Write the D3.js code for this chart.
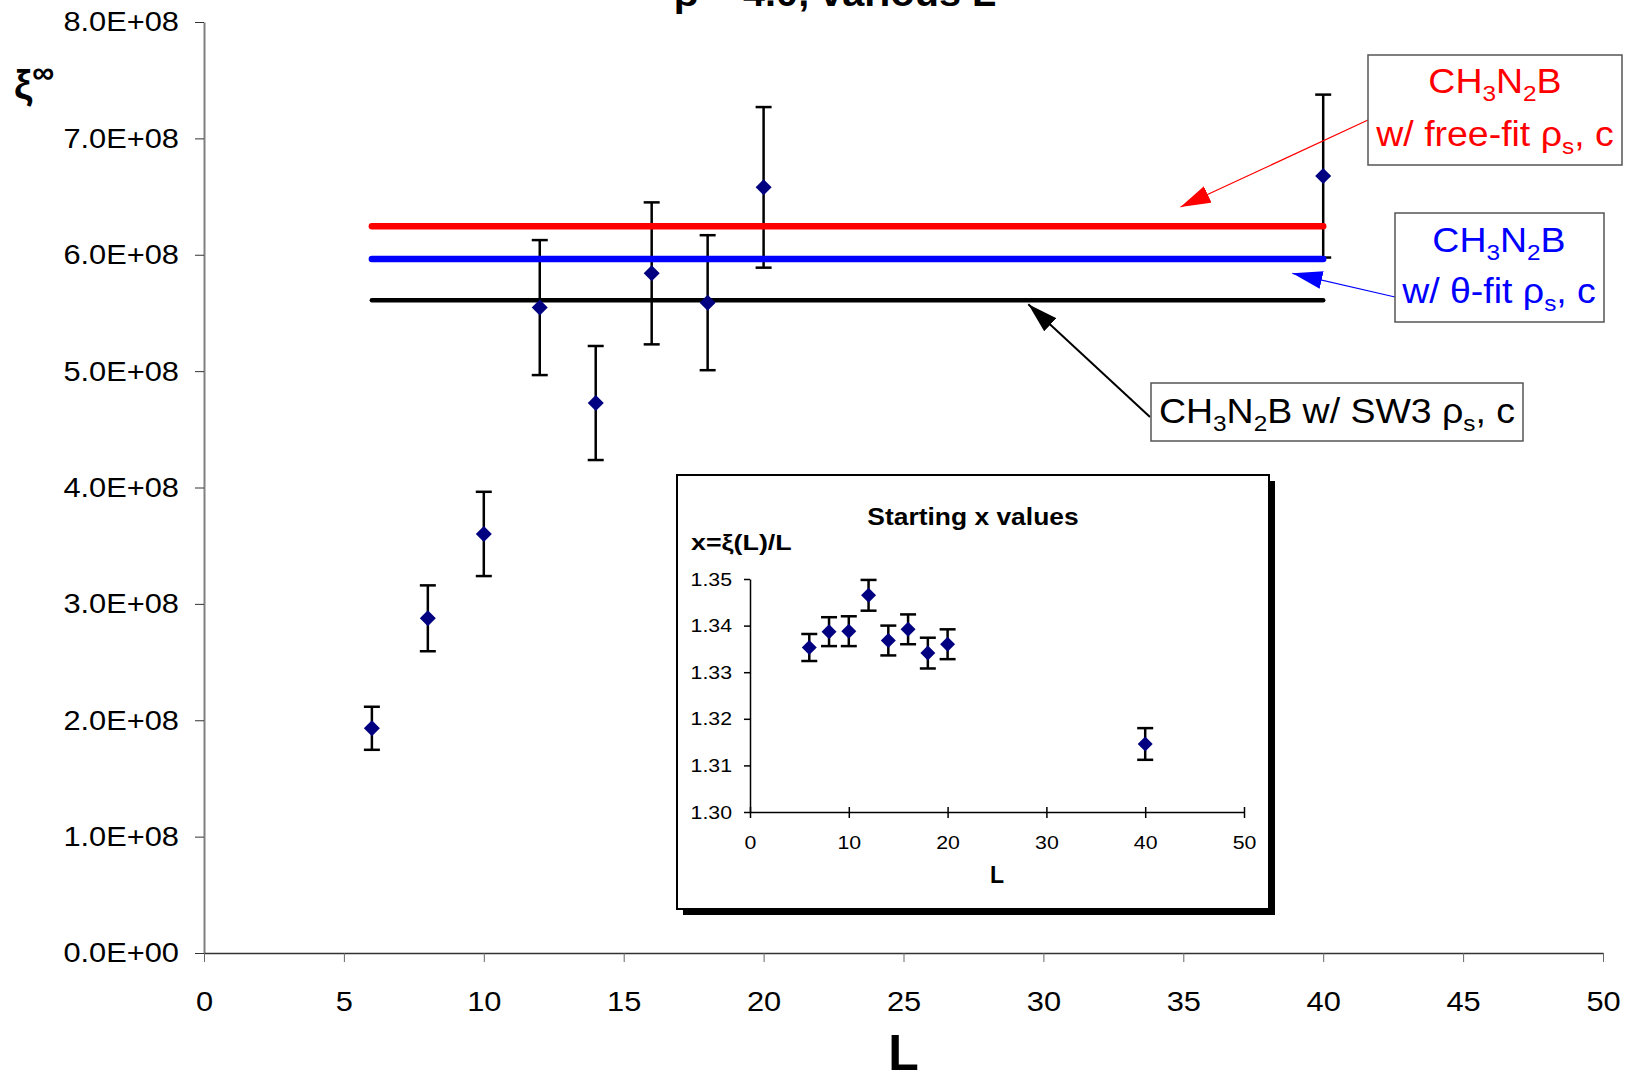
<!DOCTYPE html>
<html>
<head>
<meta charset="utf-8">
<script src="https://cdn.jsdelivr.net/npm/d3@7"></script>
<style>
  body { margin: 0; background: #fff; }
  svg { display: block; font-family: "Liberation Sans", Arial, sans-serif; }
</style>
</head>
<body>
<script>
'use strict';

// main chart data: xi_infinity vs L
const sizes = [6, 8, 10, 12, 14, 16, 18, 20, 40];
const xi_inf = [1.931e8, 2.876e8, 3.601e8, 5.546e8, 4.726e8, 5.840e8, 5.588e8, 6.579e8, 6.676e8];
const xi_err = [0.185e8, 0.283e8, 0.362e8, 0.58e8, 0.49e8, 0.61e8, 0.58e8, 0.69e8, 0.70e8];

// horizontal predictions, drawn from L=6 to L=40
const fit_range = [6, 40];
const fit_free = 6.244e8;   // red
const fit_theta = 5.963e8;  // blue
const fit_sw3 = 5.608e8;    // black

// inset: starting x = xi(L)/L
const x_start = [1.3353, 1.3387, 1.3388, 1.3465, 1.3368, 1.3392, 1.3341, 1.3360, 1.3146];
const x_start_err = [0.0029, 0.0031, 0.0032, 0.0033, 0.0032, 0.0032, 0.0033, 0.0032, 0.0034];

const x_ticks = [0, 5, 10, 15, 20, 25, 30, 35, 40, 45, 50];
const y_ticks = [0, 1e8, 2e8, 3e8, 4e8, 5e8, 6e8, 7e8, 8e8];
const inset_x_ticks = [0, 10, 20, 30, 40, 50];
const inset_y_ticks = [1.30, 1.31, 1.32, 1.33, 1.34, 1.35];

const W = 1631, H = 1070;
const MARK = "#000080";

const svg = d3.select("body").append("svg")
  .attr("width", W)
  .attr("height", H);

const x = d3.scaleLinear().domain([0, 50]).range([204, 1603]);
const y = d3.scaleLinear().domain([0, 8e8]).range([953, 22]);

// the original was rendered a bit wide, so stretch text horizontally
function stretch(sel, k)
{
  sel.each(function() {
    var w = this.getComputedTextLength();
    d3.select(this).attr("textLength", w * k).attr("lengthAdjust", "spacingAndGlyphs");
  });
}

// text with sub/superscripts: parts = [[string, "n"|"sub"|"sup"], ...]
function rich(sel, px, py, parts, fs, colour, anchor)
{
  var t = sel.append("text")
    .attr("x", px).attr("y", py)
    .attr("font-size", fs)
    .attr("fill", colour)
    .attr("text-anchor", anchor || "middle");
  var shift = 0;
  parts.forEach(function(p) {
    var want = p[1] === "sub" ? fs * 0.22 : p[1] === "sup" ? -fs * 0.4 : 0;
    t.append("tspan")
      .attr("dy", want - shift)
      .attr("font-size", p[1] === "n" ? fs : p[1] === "sup" ? fs * 0.75 : fs * 0.65)
      .text(p[0]);
    shift = want;
  });
  return t;
}

/* Title (mostly above the page edge) */
svg.append("text")
  .attr("x", 835).attr("y", 6)
  .attr("text-anchor", "middle")
  .attr("font-size", 36)
  .attr("font-weight", "bold")
  .text("β = 4.0, various L")
  .call(stretch, 1.1);

/* Axes */
const gy = svg.append("g")
  .attr("transform", `translate(${x(0)},0)`)
  .call(d3.axisLeft(y).tickValues(y_ticks).tickSize(9).tickPadding(16).tickSizeOuter(0)
    .tickFormat(function(d) { return d === 0 ? "0.0E+00" : (d / 1e8).toFixed(1) + "E+08"; }));
gy.select(".domain").attr("stroke", "#808080").attr("stroke-width", 2);
gy.selectAll(".tick line").attr("stroke", "#333");
gy.selectAll(".tick text").attr("font-size", 28).attr("fill", "#000")
  .attr("font-family", "Liberation Sans, Arial, sans-serif")
  .call(stretch, 1.1);

const gx = svg.append("g")
  .attr("transform", `translate(0,${y(0)})`)
  .call(d3.axisBottom(x).tickValues(x_ticks).tickSize(9).tickPadding(29).tickSizeOuter(0));
gx.select(".domain").attr("stroke", "#333").attr("stroke-width", 1.5);
gx.selectAll(".tick line").attr("stroke", "#666");
gx.selectAll(".tick text").attr("font-size", 28).attr("fill", "#000")
  .attr("font-family", "Liberation Sans, Arial, sans-serif")
  .call(stretch, 1.1);

/* Axis titles */
svg.append("text")
  .attr("x", x(25)).attr("y", 1070)
  .attr("text-anchor", "middle")
  .attr("font-size", 50)
  .attr("font-weight", "bold")
  .text("L");

rich(svg, 14, 99, [["ξ", "n"], ["∞", "sup"]], 41, "#000", "start")
  .attr("font-weight", "bold");

/* Error bars */
const pts = sizes.map(function(L, i) { return {L: L, v: xi_inf[i], e: xi_err[i]}; });

const eb = svg.append("g").attr("stroke", "#000").attr("stroke-width", 2.5);
eb.selectAll("line.bar").data(pts).enter().append("line")
  .attr("x1", d => x(d.L)).attr("x2", d => x(d.L))
  .attr("y1", d => y(d.v - d.e)).attr("y2", d => y(d.v + d.e));
eb.selectAll("line.top").data(pts).enter().append("line")
  .attr("x1", d => x(d.L) - 8).attr("x2", d => x(d.L) + 8)
  .attr("y1", d => y(d.v + d.e)).attr("y2", d => y(d.v + d.e));
eb.selectAll("line.bot").data(pts).enter().append("line")
  .attr("x1", d => x(d.L) - 8).attr("x2", d => x(d.L) + 8)
  .attr("y1", d => y(d.v - d.e)).attr("y2", d => y(d.v - d.e));

/* Fit lines */
const fits = [
  {v: fit_free, c: "#ff0000", w: 6.5},
  {v: fit_theta, c: "#0000ff", w: 6.5},
  {v: fit_sw3, c: "#000000", w: 4.5}
];
svg.append("g").selectAll("line").data(fits).enter().append("line")
  .attr("x1", x(fit_range[0])).attr("x2", x(fit_range[1]))
  .attr("y1", d => y(d.v)).attr("y2", d => y(d.v))
  .attr("stroke", d => d.c)
  .attr("stroke-width", d => d.w)
  .attr("stroke-linecap", "round");

/* Diamonds */
const diamond = d3.symbol().type(d3.symbolSquare).size(128);
svg.append("g").selectAll("path").data(pts).enter().append("path")
  .attr("d", diamond)
  .attr("transform", d => `translate(${x(d.L)},${y(d.v)}) rotate(45)`)
  .attr("fill", MARK);

/* Annotations */
const defs = svg.append("defs");
["red", "blue", "black"].forEach(function(c) {
  defs.append("marker")
    .attr("id", "head-" + c)
    .attr("viewBox", "0 0 30 18")
    .attr("refX", 30).attr("refY", 9)
    .attr("markerWidth", 30).attr("markerHeight", 18)
    .attr("markerUnits", "userSpaceOnUse")
    .attr("orient", "auto")
    .append("path")
    .attr("d", "M0,0 L30,9 L0,18 Z")
    .attr("fill", c === "red" ? "#ff0000" : c === "blue" ? "#0000ff" : "#000");
});

const notes = [
  {box: [1368, 55, 254, 110], colour: "#ff0000", marker: "red", lw: 1.2,
   from: [1368, 120], to: [34.9, 6.41e8],
   lines: [[1495, 93, [["CH", "n"], ["3", "sub"], ["N", "n"], ["2", "sub"], ["B", "n"]]],
           [1495, 146, [["w/ free-fit ρ", "n"], ["s", "sub"], [", c", "n"]]]]},
  {box: [1395, 213, 209, 109], colour: "#0000ff", marker: "blue", lw: 1.2,
   from: [1395, 297], to: [38.9, 5.84e8],
   lines: [[1499, 252, [["CH", "n"], ["3", "sub"], ["N", "n"], ["2", "sub"], ["B", "n"]]],
           [1499, 303, [["w/ θ-fit ρ", "n"], ["s", "sub"], [", c", "n"]]]]},
  {box: [1151, 383, 372, 58], colour: "#000", marker: "black", lw: 2,
   from: [1150, 417], to: [29.46, 5.574e8],
   lines: [[1337, 423, [["CH", "n"], ["3", "sub"], ["N", "n"], ["2", "sub"], ["B w/ SW3 ρ", "n"], ["s", "sub"], [", c", "n"]]]]}
];

notes.forEach(function(n) {
  svg.append("line")
    .attr("x1", n.from[0]).attr("y1", n.from[1])
    .attr("x2", x(n.to[0])).attr("y2", y(n.to[1]))
    .attr("stroke", n.colour)
    .attr("stroke-width", n.lw)
    .attr("marker-end", `url(#head-${n.marker})`);
  svg.append("rect")
    .attr("x", n.box[0]).attr("y", n.box[1])
    .attr("width", n.box[2]).attr("height", n.box[3])
    .attr("fill", "#fff")
    .attr("stroke", "#555")
    .attr("stroke-width", 1.5);
  n.lines.forEach(function(l) {
    rich(svg, l[0], l[1], l[2], 35, n.colour, "middle").call(stretch, 1.07);
  });
});

/* Inset: starting x values */
const ins = svg.append("g");
ins.append("rect")
  .attr("x", 683).attr("y", 481).attr("width", 592).attr("height", 434)
  .attr("fill", "#000");
ins.append("rect")
  .attr("x", 677).attr("y", 475).attr("width", 592).attr("height", 434)
  .attr("fill", "#fff")
  .attr("stroke", "#000")
  .attr("stroke-width", 2);

const xi = d3.scaleLinear().domain([0, 50]).range([750, 1244]);
const yi = d3.scaleLinear().domain([1.30, 1.35]).range([812, 579]);

const giy = ins.append("g")
  .attr("transform", `translate(${xi(0)},0)`)
  .call(d3.axisLeft(yi).tickValues(inset_y_ticks).tickSize(6).tickPadding(12).tickSizeOuter(0)
    .tickFormat(d3.format(".2f")));
const gix = ins.append("g")
  .attr("transform", `translate(0,${yi(1.30)})`)
  .call(d3.axisBottom(xi).tickValues(inset_x_ticks).tickSize(6).tickPadding(18).tickSizeOuter(0));
gix.selectAll(".tick line").attr("y1", -5);
[giy, gix].forEach(function(g) {
  g.select(".domain").attr("stroke", "#000").attr("stroke-width", 1.5);
  g.selectAll(".tick line").attr("stroke", "#000").attr("stroke-width", 1.5);
  g.selectAll(".tick text").attr("font-size", 19).attr("fill", "#000")
    .attr("font-family", "Liberation Sans, Arial, sans-serif")
    .call(stretch, 1.12);
});

ins.append("text")
  .attr("x", 973).attr("y", 525)
  .attr("text-anchor", "middle")
  .attr("font-size", 24)
  .attr("font-weight", "bold")
  .text("Starting x values")
  .call(stretch, 1.1);
ins.append("text")
  .attr("x", 691).attr("y", 550)
  .attr("font-size", 22)
  .attr("font-weight", "bold")
  .text("x=ξ(L)/L")
  .call(stretch, 1.22);
ins.append("text")
  .attr("x", 997).attr("y", 883)
  .attr("text-anchor", "middle")
  .attr("font-size", 23)
  .attr("font-weight", "bold")
  .text("L");

const ipts = sizes.map(function(L, i) { return {L: L, v: x_start[i], e: x_start_err[i]}; });
const ieb = ins.append("g").attr("stroke", "#000").attr("stroke-width", 2.5);
ieb.selectAll("line.bar").data(ipts).enter().append("line")
  .attr("x1", d => xi(d.L)).attr("x2", d => xi(d.L))
  .attr("y1", d => yi(d.v - d.e)).attr("y2", d => yi(d.v + d.e));
ieb.selectAll("line.top").data(ipts).enter().append("line")
  .attr("x1", d => xi(d.L) - 8).attr("x2", d => xi(d.L) + 8)
  .attr("y1", d => yi(d.v + d.e)).attr("y2", d => yi(d.v + d.e));
ieb.selectAll("line.bot").data(ipts).enter().append("line")
  .attr("x1", d => xi(d.L) - 8).attr("x2", d => xi(d.L) + 8)
  .attr("y1", d => yi(d.v - d.e)).attr("y2", d => yi(d.v - d.e));

ins.append("g").selectAll("path").data(ipts).enter().append("path")
  .attr("d", d3.symbol().type(d3.symbolSquare).size(112))
  .attr("transform", d => `translate(${xi(d.L)},${yi(d.v)}) rotate(45)`)
  .attr("fill", MARK);
</script>
</body>
</html>
